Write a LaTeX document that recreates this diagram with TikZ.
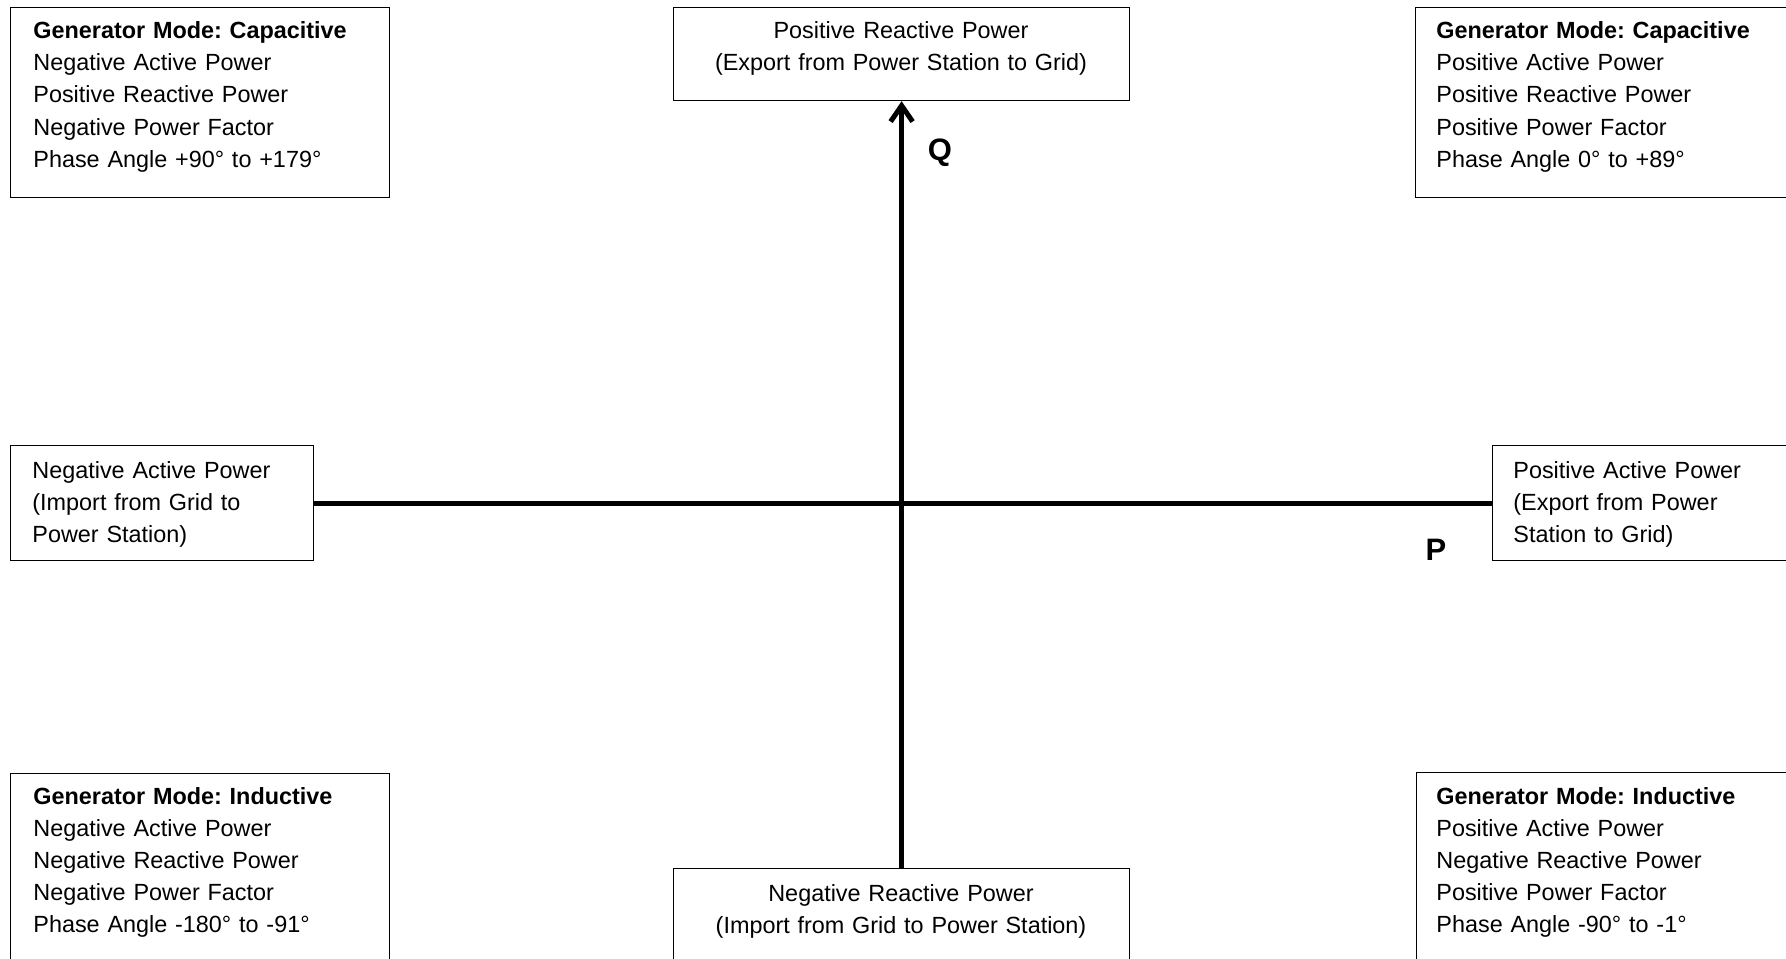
\documentclass[tikz,border=0pt]{standalone}
\usepackage{fontspec}
\setmainfont{Liberation Sans}
\frenchspacing
\usetikzlibrary{arrows.meta}
\tikzset{box/.style={draw,line width=0.6pt,inner sep=0pt,anchor=north west},
  txt/.style={anchor=base west,inner sep=0pt,align=left,text width=185pt,font=\fontsize{11.7}{16}\selectfont},
  ctxt/.style={anchor=base,inner sep=0pt,align=center,text width=220pt,font=\fontsize{11.7}{16}\selectfont},
  axis/.style={line width=2.5pt},
  lbl/.style={inner sep=0pt,font=\fontsize{15.5}{18}\selectfont\bfseries}}

\begin{document}
\begin{tikzpicture}[x=0.5pt,y=-0.5pt]
\useasboundingbox (0,0) rectangle (1786,958);
\clip (0,0) rectangle (1786,958);

\node[box,minimum width=189.5pt,minimum height=95pt] (tl) at (10,7) {};
\node[txt] (tlt) at (33,39) {\textbf{Generator Mode: Capacitive}\\Negative Active Power\\Positive Reactive Power\\Negative Power Factor\\Phase Angle +90° to +179°};

\node[box,minimum width=195pt,minimum height=95pt] (tr) at (1415,7) {};
\node[txt] (trt) at (1436,39) {\textbf{Generator Mode: Capacitive}\\Positive Active Power\\Positive Reactive Power\\Positive Power Factor\\Phase Angle 0° to +89°};

\node[box,minimum width=189.5pt,minimum height=95pt] (bl) at (10,773) {};
\node[txt] (blt) at (33,804) {\textbf{Generator Mode: Inductive}\\Negative Active Power\\Negative Reactive Power\\Negative Power Factor\\Phase Angle -180° to -91°};

\node[box,minimum width=195pt,minimum height=95pt] (br) at (1416,772) {};
\node[txt] (brt) at (1436,804) {\textbf{Generator Mode: Inductive}\\Positive Active Power\\Negative Reactive Power\\Positive Power Factor\\Phase Angle -90° to -1°};

\node[box,minimum width=228pt,minimum height=46.5pt] (tc) at (673,7) {};
\node[ctxt] (tct) at (901,39) {Positive Reactive Power\\(Export from Power Station to Grid)};

\node[box,minimum width=228pt,minimum height=46.5pt] (bc) at (673,868) {};
\node[ctxt] (bct) at (901,901) {Negative Reactive Power\\(Import from Grid to Power Station)};

\node[box,minimum width=151.5pt,minimum height=57.5pt] (lm) at (10,445) {};
\node[txt] (lmt) at (32,478) {Negative Active Power\\(Import from Grid to\\Power Station)};

\node[box,minimum width=151.5pt,minimum height=57.5pt] (rm) at (1492,445) {};
\node[txt] (rmt) at (1513,478) {Positive Active Power\\(Export from Power\\Station to Grid)};

\draw[axis] (lm.east) -- (rm.west);
\draw[axis,-{Straight Barb[length=8pt,width=11pt]}] (bc.north) -- (tc.south);

\node[lbl] (q) at (940,153) {Q};
\node[lbl] (p) at (1436,550) {P};
\end{tikzpicture}
\end{document}
